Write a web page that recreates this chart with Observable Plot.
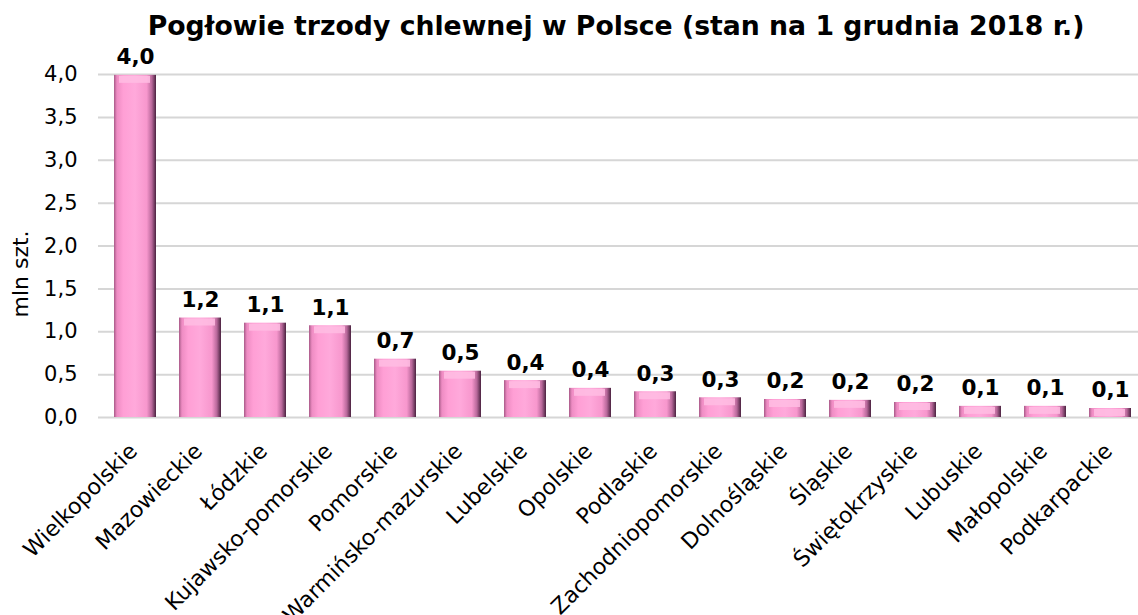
<!DOCTYPE html>
<html>
<head>
<meta charset="utf-8">
<script src="https://cdn.jsdelivr.net/npm/d3@7"></script>
<script src="https://cdn.jsdelivr.net/npm/@observablehq/plot@0.6"></script>
<style>
  html, body { margin: 0; padding: 0; background: #ffffff; }
  #title {
    box-sizing: border-box;
    height: 40px;
    padding-top: 13px;
    margin-left: 94px;
    width: 1044px;
    text-align: center;
    font-family: "DejaVu Sans", Verdana, sans-serif;
    font-weight: bold;
    font-size: 26.7px;
    line-height: 26px;
    color: #000;
    white-space: nowrap;
  }
</style>
</head>
<body>
<div id="title">Pogłowie trzody chlewnej w Polsce (stan na 1 grudnia 2018 r.)</div>
<div id="chart"></div>
<script>
const regions = ["Wielkopolskie", "Mazowieckie", "Łódzkie", "Kujawsko-pomorskie", "Pomorskie",
  "Warmińsko-mazurskie", "Lubelskie", "Opolskie", "Podlaskie", "Zachodniopomorskie",
  "Dolnośląskie", "Śląskie", "Świętokrzyskie", "Lubuskie", "Małopolskie", "Podkarpackie"];
const values = [3.99, 1.16, 1.10, 1.07, 0.68, 0.54, 0.43, 0.34, 0.30, 0.23, 0.21, 0.20, 0.175, 0.13, 0.13, 0.105];
const valueLabels = ["4,0", "1,2", "1,1", "1,1", "0,7", "0,5", "0,4", "0,4", "0,3", "0,3", "0,2", "0,2", "0,2", "0,1", "0,1", "0,1"];
const yTicks = [0, 0.5, 1, 1.5, 2, 2.5, 3, 3.5, 4];
const yLabel = "mln szt.";

const data = regions.map((r, i) => ({region: r, value: values[i], label: valueLabels[i]}));
const fmt = d => d.toFixed(1).replace(".", ",");

const chart = Plot.plot({
  width: 1138,
  height: 575,
  marginTop: 34,
  marginBottom: 198,
  marginLeft: 98,
  marginRight: 0,
  style: {fontFamily: "DejaVu Sans, Verdana, sans-serif", color: "#000", background: "#fff"},
  x: {domain: regions, range: [98, 1146], paddingInner: 0.36, paddingOuter: 0.18, label: null},
  y: {domain: [0, 4], label: null},
  marks: [
    Plot.ruleY(yTicks, {stroke: "#d6d6d6", strokeWidth: 2}),
    Plot.barY(data, {x: "region", y: "value", fill: "url(#barGrad)"}),
    Plot.tickY(data, {x: "region", y: "value", stroke: "#ffbde3", strokeWidth: 7, strokeOpacity: 0.85, dy: 4, insetLeft: 5, insetRight: 6}),
    Plot.text(data, {x: "region", y: "value", text: "label", lineAnchor: "bottom", dy: -11,
      fontSize: 21.5, fontWeight: "bold", fill: "#000"}),
    Plot.axisY({ticks: yTicks, tickFormat: fmt, tickSize: 0, tickPadding: 21, fontSize: 21, label: null}),
    Plot.axisX({tickRotate: -45, tickSize: 0, tickPadding: 0, dx: -2, dy: 30, fontSize: 22, label: null}),
    Plot.text([yLabel], {frameAnchor: "left", rotate: -90, dx: -78, dy: 28, fontSize: 22, fill: "#000", textAnchor: "middle"})
  ]
});

const svg = d3.select(chart);
const defs = svg.insert("defs", ":first-child");
const g = defs.append("linearGradient").attr("id", "barGrad")
  .attr("x1", 0).attr("x2", 1).attr("y1", 0).attr("y2", 0);
[["0%", "#a85a88"], ["7%", "#ee8cc3"], ["22%", "#ff9fd5"], ["50%", "#ffa9db"],
 ["78%", "#f797cd"], ["90%", "#b8689a"], ["100%", "#4a2240"]].forEach(([o, c]) =>
  g.append("stop").attr("offset", o).attr("stop-color", c));

document.getElementById("chart").appendChild(chart);
</script>
</body>
</html>
